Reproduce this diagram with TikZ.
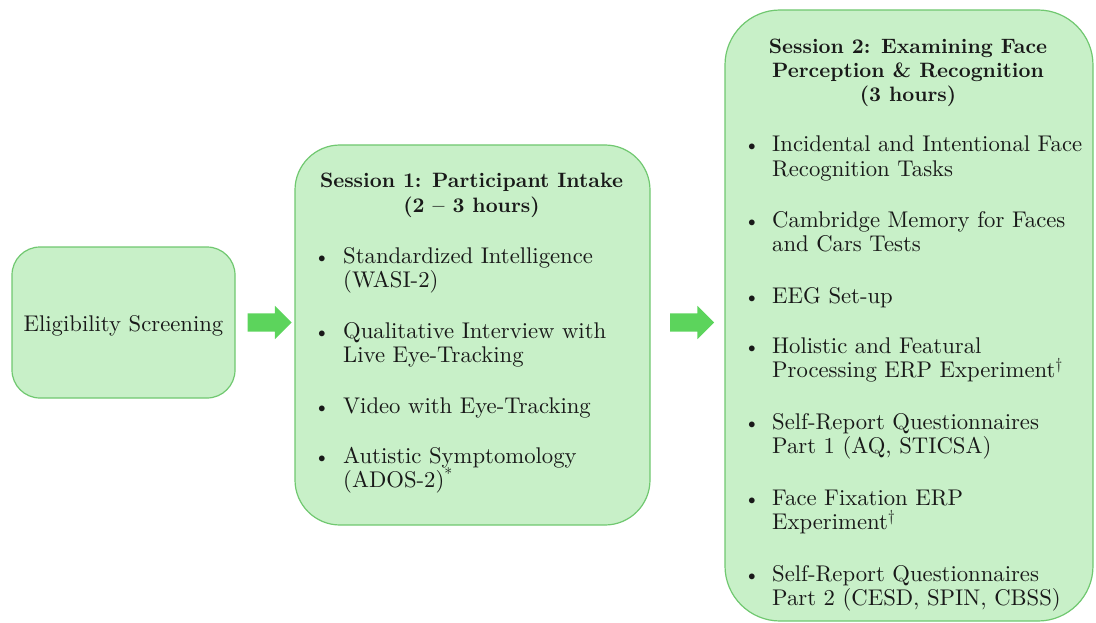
\documentclass[tikz,border=0pt]{standalone}
\usepackage{fontspec}
\setmainfont{lmroman10-regular.otf}[BoldFont=lmroman10-bold.otf, ItalicFont=lmroman10-italic.otf]
\usetikzlibrary{shapes.arrows,calc}
\definecolor{boxfill}{RGB}{200,240,200}
\definecolor{boxline}{RGB}{112,200,112}
\definecolor{arrowfill}{RGB}{92,212,92}
\definecolor{txt}{RGB}{25,25,25}
\begin{document}
\begin{tikzpicture}[x=1pt,y=1pt,
  stage/.style={draw=boxline, fill=boxfill, line width=1.2pt, inner sep=0pt},
  flowarrow/.style={single arrow, fill=arrowfill, draw=none, minimum height=44pt, inner xsep=0pt, inner ysep=9pt, single arrow head extend=7.5pt, single arrow tip angle=90},
  line/.style={anchor=base west, inner sep=0pt, font=\fontsize{22.7}{24.5}\selectfont, text=txt},
  ttl/.style={anchor=base, inner sep=0pt, font=\fontsize{20.8}{24.5}\selectfont\bfseries, text=txt},
  dot/.style={anchor=base, inner sep=0pt, font=\fontsize{20}{24.5}\selectfont, text=txt}
]
\useasboundingbox (0,0) rectangle (1096,-623);
% boxes
\node[stage, rounded corners=28pt, minimum width=223pt, minimum height=151pt] (elig) at (123.5,-322.5) {};
\node[stage, rounded corners=45pt, minimum width=355pt, minimum height=380pt] (s1) at (472.5,-335) {};
\node[stage, rounded corners=55pt, minimum width=368pt, minimum height=611pt] (s2) at (909,-315.5) {};
% arrows
\node[flowarrow] (a1) at ($(elig.east)!0.5!(s1.west |- elig.east)$) {};
\node[flowarrow] (a2) at ($(s1.east |- elig.east)!0.5!(s2.west |- elig.east)$) {};
% eligibility
\node[anchor=base, inner sep=0pt, font=\fontsize{22.7}{24.5}\selectfont, text=txt] (eligt) at (123.5,-331) {Eligibility Screening};
% session 1
\node[ttl] (s1t1) at (471.5,-188) {Session 1: Participant Intake};
\node[ttl] (s1t2) at (471.5,-212) {(2 -- 3 hours)};
\node[dot] (s1b1) at (322,-263) {\textbullet};
\node[line] (s1i1a) at (343,-263) {Standardized Intelligence};
\node[line] (s1i1b) at (343,-287.5) {(WASI-2)};
\node[dot] (s1b2) at (322,-338) {\textbullet};
\node[line] (s1i2a) at (343,-338) {Qualitative Interview with};
\node[line] (s1i2b) at (343,-362.5) {Live Eye-Tracking};
\node[dot] (s1b3) at (322,-413) {\textbullet};
\node[line] (s1i3a) at (343,-413) {Video with Eye-Tracking};
\node[dot] (s1b4) at (322,-463) {\textbullet};
\node[line] (s1i4a) at (343,-463) {Autistic Symptomology};
\node[line] (s1i4b) at (343,-487.5) {(ADOS-2)\textsuperscript{*}};
% session 2
\node[ttl] (s2t1) at (908,-54) {Session 2: Examining Face};
\node[ttl] (s2t2) at (908,-78) {Perception \& Recognition};
\node[ttl] (s2t3) at (908,-102) {(3 hours)};
\node[dot] (s2b1) at (752,-152) {\textbullet};
\node[line] (s2i1a) at (772,-152) {Incidental and Intentional Face};
\node[line] (s2i1b) at (772,-176.5) {Recognition Tasks};
\node[dot] (s2b2) at (752,-227) {\textbullet};
\node[line] (s2i2a) at (772,-227) {Cambridge Memory for Faces};
\node[line] (s2i2b) at (772,-251.5) {and Cars Tests};
\node[dot] (s2b3) at (752,-303) {\textbullet};
\node[line] (s2i3a) at (772,-303) {EEG Set-up};
\node[dot] (s2b4) at (752,-353) {\textbullet};
\node[line] (s2i4a) at (772,-353) {Holistic and Featural};
\node[line] (s2i4b) at (772,-377.5) {Processing ERP Experiment\textsuperscript{\textdagger}};
\node[dot] (s2b5) at (752,-429) {\textbullet};
\node[line] (s2i5a) at (772,-429) {Self-Report Questionnaires};
\node[line] (s2i5b) at (772,-453.5) {Part 1 (AQ, STICSA)};
\node[dot] (s2b6) at (752,-505) {\textbullet};
\node[line] (s2i6a) at (772,-505) {Face Fixation ERP};
\node[line] (s2i6b) at (772,-529.5) {Experiment\textsuperscript{\textdagger}};
\node[dot] (s2b7) at (752,-581) {\textbullet};
\node[line] (s2i7a) at (772,-581) {Self-Report Questionnaires};
\node[line] (s2i7b) at (772,-605.5) {Part 2 (CESD, SPIN, CBSS)};
\end{tikzpicture}
\end{document}
